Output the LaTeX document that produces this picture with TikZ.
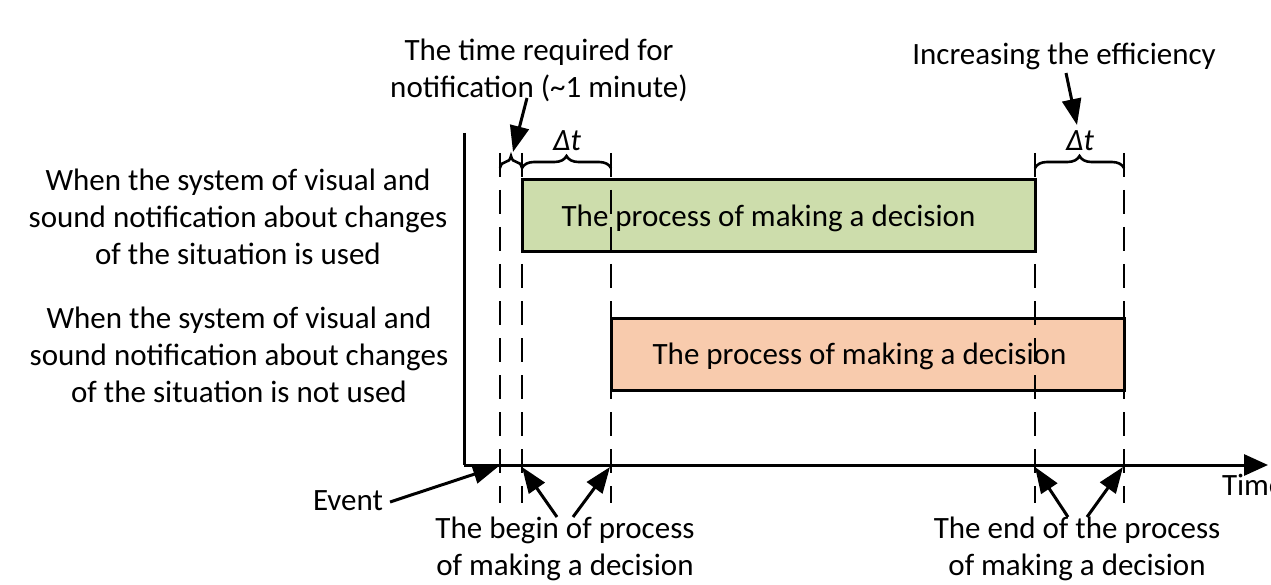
\documentclass[tikz,border=0pt]{standalone}
\usepackage{fontspec}
\setmainfont{Carlito}
\usetikzlibrary{arrows.meta,decorations.pathreplacing}
\definecolor{boxgreen}{RGB}{205,221,172}
\definecolor{boxorange}{RGB}{248,203,173}
\begin{document}
\begin{tikzpicture}[x=1pt,y=-1pt,
  every node/.style={inner sep=0pt,outer sep=0pt,font=\fontsize{31}{37}\selectfont,align=center},
  axis/.style={line width=3pt},
  guide/.style={line width=2.6pt,dash pattern=on 24pt off 13pt},
  procbox/.style={draw,line width=3pt,minimum height=72pt},
  pointer/.style={line width=3pt,-{Triangle[length=26pt,width=19pt]}},
  bracey/.style={line width=2.6pt,decorate,decoration={brace,amplitude=12pt}},
]
\useasboundingbox (0,0) rectangle (1271,585);

% axes
\coordinate (O) at (464,465);
\coordinate (ytop) at (464,133);
\coordinate (xend) at (1268,465);
\draw[axis] (ytop) -- (O);
\draw[axis,-{Triangle[length=24pt,width=21pt]}] (O) -- (xend);
\node[anchor=west] (time) at (1222,485) {Time};

% boxes
\node[procbox,fill=boxgreen,minimum width=513pt] (gbox) at (778.5,216) {};
\node[procbox,fill=boxorange,minimum width=513pt] (obox) at (867.5,354) {};

% guide lines
\foreach \x/\n in {500/a,522/b,611/c,1035/d,1124/e}{
  \coordinate (\n top) at (\x,153);
  \coordinate (\n bot) at (\x,503);
  \draw[guide] (\n top) -- (\n bot);
}

\node (gtext) at (768.5,218) {The process of making a decision};
\node (otext) at (859.5,356) {The process of making a decision};

% braces
\coordinate (ba1) at (500,168); \coordinate (bb1) at (522,168);
\coordinate (bb2) at (522,168); \coordinate (bc2) at (611,168);
\coordinate (bd3) at (1035,168); \coordinate (be3) at (1124,168);
\draw[bracey] (ba1) -- (bb1);
\draw[bracey] (bb2) -- (bc2);
\draw[bracey] (bd3) -- (be3);
\node (dt1) at (567,141) {\itshape Δt};
\node (dt2) at (1080,141) {\itshape Δt};

% left labels
\node (lab1) at (238,217) {When the system of visual and\\sound notification about changes\\of the situation is used};
\node (lab2) at (239,355) {When the system of visual and\\sound notification about changes\\of the situation is not used};

% top labels
\node (notif) at (539,70) {The time required for\\notification (\textasciitilde1 minute)};
\node (incr) at (1064,56) {Increasing the efficiency};
\coordinate (n1) at (527,98); \coordinate (n2) at (513,152);
\draw[pointer] (n1) -- (n2);
\coordinate (i1) at (1066,73); \coordinate (i2) at (1077,125);
\draw[pointer] (i1) -- (i2);

% bottom labels
\node (event) at (348,501) {Event};
\coordinate (e1) at (390,502); \coordinate (e2) at (499,466);
\draw[pointer] (e1) -- (e2);
\node (begin) at (565,549) {The begin of process\\of making a decision};
\coordinate (b1) at (557,517); \coordinate (b2) at (522,467);
\coordinate (b3) at (573,517); \coordinate (b4) at (610,467);
\draw[pointer] (b1) -- (b2);
\draw[pointer] (b3) -- (b4);
\node (end) at (1077,549) {The end of the process\\of making a decision};
\coordinate (f1) at (1068,517); \coordinate (f2) at (1035,467);
\coordinate (f3) at (1087,517); \coordinate (f4) at (1123,467);
\draw[pointer] (f1) -- (f2);
\draw[pointer] (f3) -- (f4);
\end{tikzpicture}
\end{document}
